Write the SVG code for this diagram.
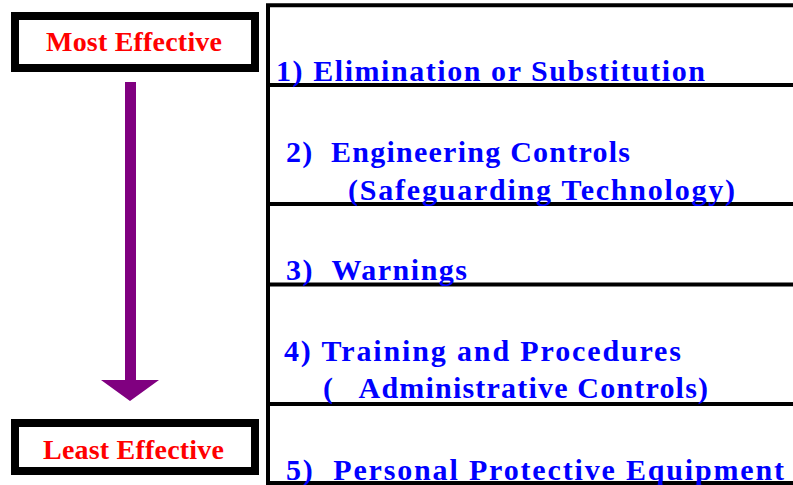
<svg xmlns="http://www.w3.org/2000/svg" width="793" height="485" viewBox="0 0 793 485">
<style>
.box{fill:#fff;stroke:#000;stroke-width:8}
.lbl{font-family:"Liberation Serif","Times New Roman",serif;font-weight:bold;font-size:28px;fill:#ff0000}
.item{font-family:"Liberation Serif","Times New Roman",serif;font-weight:bold;font-size:30px;fill:#0000ff;white-space:pre}
.rule{stroke:#000;stroke-width:4;fill:none}
</style>
<rect width="793" height="485" fill="#fff"/>
<g id="most-effective">
<rect class="box" x="15" y="16" width="240" height="52"/>
<text class="lbl" x="46" y="51" textLength="176" lengthAdjust="spacing">Most Effective</text>
</g>
<g id="least-effective">
<rect class="box" x="15" y="423" width="240" height="48"/>
<text class="lbl" x="43" y="459" textLength="181" lengthAdjust="spacing">Least Effective</text>
</g>
<g id="connectors">
<polygon points="125,82 136,82 136,380 159,380 130,401 101,380 125,380" fill="#800080"/>
</g>
<g id="table">
<path class="rule" d="M268,485 V5.3 H793 M268,85 H793 M268,204 H793 M268,284.5 H793 M268,404 H793 M268,483 H793"/>
</g>
<g id="item1"><text class="item" x="276" y="81" textLength="429" lengthAdjust="spacing">1) Elimination or Substitution</text></g>
<g id="item2">
<text class="item" x="286" y="162" textLength="344" lengthAdjust="spacing">2)  Engineering Controls</text>
<text class="item" x="348" y="200" textLength="387" lengthAdjust="spacing">(Safeguarding Technology)</text>
</g>
<g id="item3"><text class="item" x="286" y="280" textLength="181" lengthAdjust="spacing">3)  Warnings</text></g>
<g id="item4">
<text class="item" x="284" y="361" textLength="397" lengthAdjust="spacing">4) Training and Procedures</text>
<text class="item" x="323" y="398" textLength="385" lengthAdjust="spacing">(   Administrative Controls)</text>
</g>
<g id="item5"><text class="item" x="286" y="480" textLength="498" lengthAdjust="spacing">5)  Personal Protective Equipment</text></g>
</svg>
